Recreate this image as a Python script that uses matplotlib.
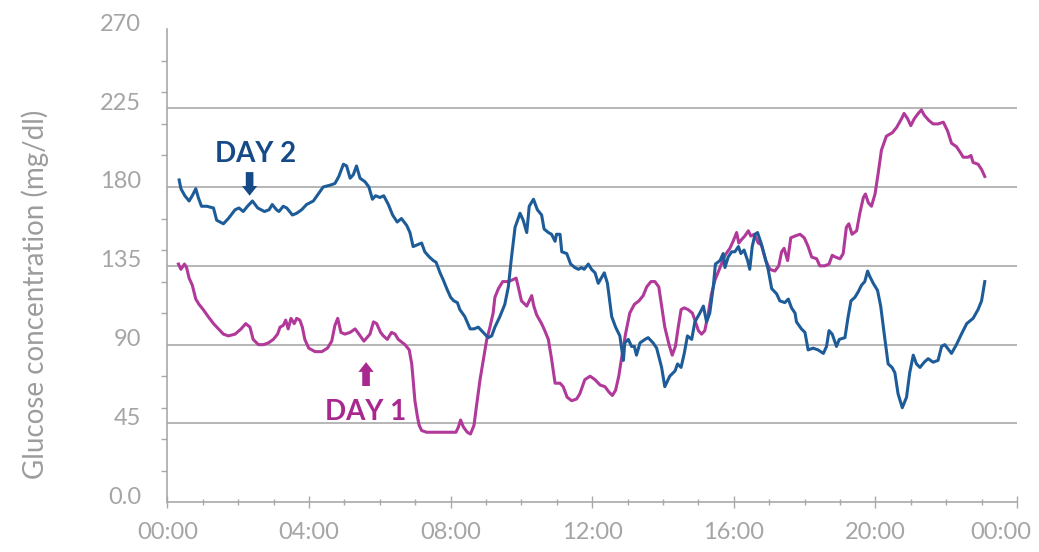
import matplotlib
matplotlib.use("Agg")
from matplotlib import pyplot as plt
from matplotlib.transforms import ScaledTranslation
import numpy as np

# hours since midnight, glucose in mg/dl
day2_hours = [0.33, 0.38, 0.49, 0.61, 0.70, 0.80, 0.87, 0.96, 1.11, 1.30, 1.39, 1.58, 1.72, 1.91,
              2.02, 2.14, 2.26, 2.40, 2.55, 2.74, 2.87, 2.96, 3.08, 3.15, 3.27, 3.37, 3.53, 3.65,
              3.79, 3.93, 4.12, 4.26, 4.40, 4.59, 4.73, 4.84, 4.97, 5.06, 5.16, 5.25, 5.34, 5.44,
              5.58, 5.69, 5.79, 5.88, 6.00, 6.11, 6.24, 6.36, 6.49, 6.61, 6.76, 6.85, 6.94, 7.06,
              7.18, 7.27, 7.40, 7.51, 7.59, 7.70, 7.79, 7.89, 8.00, 8.09, 8.19, 8.26, 8.40, 8.55,
              8.66, 8.78, 8.92, 9.06, 9.16, 9.25, 9.39, 9.53, 9.63, 9.72, 9.82, 9.96, 10.05, 10.15,
              10.22, 10.34, 10.45, 10.57, 10.64, 10.76, 10.85, 10.95, 10.99, 11.09, 11.14, 11.28,
              11.39, 11.51, 11.61, 11.70, 11.77, 11.89, 11.98, 12.08, 12.17, 12.34, 12.43, 12.55,
              12.66, 12.78, 12.88, 12.92, 13.02, 13.11, 13.19, 13.25, 13.35, 13.49, 13.58, 13.72,
              13.82, 13.96, 14.05, 14.19, 14.34, 14.41, 14.51, 14.60, 14.69, 14.81, 14.90, 15.04,
              15.14, 15.23, 15.32, 15.42, 15.48, 15.61, 15.70, 15.75, 15.84, 15.94, 16.03, 16.13,
              16.20, 16.29, 16.39, 16.45, 16.52, 16.60, 16.67, 16.77, 16.88, 16.97, 17.07, 17.21,
              17.30, 17.44, 17.54, 17.63, 17.73, 17.77, 17.91, 18.01, 18.10, 18.24, 18.38, 18.53,
              18.62, 18.69, 18.78, 18.90, 18.98, 19.14, 19.23, 19.31, 19.42, 19.51, 19.61, 19.70,
              19.78, 19.84, 19.94, 20.06, 20.15, 20.25, 20.36, 20.47, 20.55, 20.64, 20.76, 20.88,
              20.97, 21.07, 21.16, 21.26, 21.38, 21.49, 21.63, 21.77, 21.87, 21.96, 22.15, 22.29,
              22.43, 22.58, 22.76, 22.90, 23.00, 23.09]
day2_glucose = [184, 179, 175, 172, 175, 179, 174, 169, 169, 168, 161, 159, 162, 167,
                168, 166, 169, 172, 168, 166, 167, 170, 167, 166, 169, 168, 164, 165,
                167, 170, 172, 176, 180, 181, 182, 186, 193, 192, 185, 187, 192, 185,
                183, 180, 173, 175, 174, 175, 170, 164, 160, 162, 158, 154, 146, 147,
                148, 143, 140, 138, 137, 131, 127, 122, 117, 115, 114, 110, 106, 99,
                99, 100, 97, 94, 95, 100, 106, 113, 123, 140, 157, 165, 161, 154,
                169, 173, 167, 164, 156, 154, 153, 149, 153, 153, 143, 142,
                136, 134, 133, 134, 133, 136, 133, 131, 125, 131, 125, 106,
                100, 95, 81, 91, 93, 89, 89, 84, 91, 93, 94, 91,
                88, 77, 66, 72, 75, 79, 77, 85, 95, 93, 103, 108,
                112, 103, 108, 123, 136, 138, 142, 134, 140, 143, 143, 146,
                142, 144, 138, 133, 146, 153, 154, 148, 140, 133, 122, 119,
                115, 114, 116, 111, 108, 103, 99, 97, 87, 88, 87, 85,
                89, 98, 96, 89, 93, 94, 106, 115, 117, 120, 124, 126,
                132, 129, 125, 121, 112, 96, 79, 77, 74, 62, 54, 60,
                74, 84, 79, 77, 80, 82, 80, 81, 89, 90, 85, 90,
                96, 102, 105, 110, 115, 126]

day1_hours = [0.31, 0.38, 0.48, 0.54, 0.61, 0.70, 0.80, 0.89, 1.01, 1.15, 1.30, 1.44, 1.58, 1.72,
              1.91, 2.08, 2.21, 2.33, 2.42, 2.57, 2.71, 2.85, 2.99, 3.11, 3.18, 3.27, 3.34, 3.41,
              3.49, 3.58, 3.65, 3.74, 3.81, 3.88, 3.99, 4.17, 4.36, 4.52, 4.64, 4.73, 4.81, 4.90,
              5.01, 5.16, 5.30, 5.41, 5.55, 5.72, 5.82, 5.91, 6.02, 6.10, 6.21, 6.33, 6.43, 6.52,
              6.71, 6.83, 6.90, 6.94, 6.99, 7.06, 7.11, 7.18, 7.32, 7.60, 7.89, 8.15, 8.22, 8.28,
              8.36, 8.47, 8.56, 8.66, 8.73, 8.83, 8.92, 9.02, 9.11, 9.20, 9.25, 9.35, 9.47, 9.63,
              9.75, 9.85, 9.91, 10.00, 10.15, 10.22, 10.29, 10.35, 10.43, 10.57, 10.66, 10.76,
              10.85, 10.95, 11.09, 11.18, 11.29, 11.42, 11.56, 11.65, 11.79, 11.94, 12.08, 12.22,
              12.36, 12.47, 12.57, 12.66, 12.75, 12.85, 12.94, 13.06, 13.19, 13.32, 13.44, 13.54,
              13.66, 13.77, 13.88, 13.96, 14.05, 14.17, 14.26, 14.35, 14.43, 14.51, 14.60, 14.71,
              14.83, 14.90, 15.00, 15.09, 15.18, 15.28, 15.37, 15.47, 15.61, 15.75, 15.89, 15.98,
              16.08, 16.14, 16.22, 16.31, 16.41, 16.48, 16.58, 16.69, 16.78, 16.90, 17.02, 17.16,
              17.27, 17.35, 17.42, 17.52, 17.61, 17.73, 17.87, 17.99, 18.10, 18.20, 18.34, 18.43,
              18.57, 18.69, 18.78, 18.87, 19.00, 19.09, 19.18, 19.25, 19.34, 19.47, 19.56, 19.66,
              19.72, 19.80, 19.89, 19.99, 20.08, 20.17, 20.31, 20.48, 20.60, 20.74, 20.81, 20.91,
              21.00, 21.10, 21.21, 21.30, 21.38, 21.51, 21.63, 21.77, 21.92, 22.04, 22.15, 22.29,
              22.39, 22.48, 22.62, 22.70, 22.76, 22.90, 23.00, 23.09]
day1_glucose = [136, 133, 136, 134, 128, 124, 116, 113, 110, 106, 102, 99, 96, 95,
                96, 99, 102, 100, 93, 90, 90, 91, 93, 96, 100, 101, 104, 99,
                105, 102, 105, 104, 100, 93, 88, 86, 86, 88, 92, 101, 105, 97,
                96, 97, 99, 96, 92, 96, 103, 102, 97, 95, 93, 97, 96, 93,
                90, 87, 79, 70, 58, 49, 44, 41, 40, 40, 40, 40, 43, 47,
                43, 40, 39, 44, 55, 70, 81, 93, 100, 108, 117, 122, 126, 126,
                127, 128, 123, 115, 112, 115, 118, 112, 107, 102, 98, 93,
                82, 68, 68, 66, 60, 58, 59, 62, 70, 72, 70, 67,
                66, 63, 61, 64, 72, 85, 96, 108, 113, 115, 118, 123,
                126, 126, 123, 112, 100, 90, 84, 89, 100, 110, 111, 110,
                108, 104, 98, 96, 98, 108, 119, 127, 134, 141, 145, 149,
                154, 148, 150, 152, 155, 152, 153, 148, 147, 138, 133, 132,
                135, 143, 145, 138, 151, 152, 153, 151, 146, 140, 139, 135,
                135, 136, 141, 140, 139, 142, 157, 159, 153, 155, 165, 174,
                176, 171, 169, 176, 188, 201, 209, 211, 214, 219, 222, 219,
                215, 219, 222, 224, 221, 218, 216, 216, 217, 212, 205, 203,
                200, 197, 197, 198, 194, 193, 190, 186]

x_labels = ['00:00', '04:00', '08:00', '12:00', '16:00', '20:00', '00:00']
y_labels = ['0.0', '45', '90', '135', '180', '225', '270']

blue = '#1d5c98'
magenta = '#b0399a'
grey_text = '#a5a5a5'
grey_line = '#a9a9a9'

plt.rcParams['font.family'] = ['Lato', 'DejaVu Sans']

fig = plt.figure(figsize=(10.39, 5.52), dpi=100)
ax = fig.add_axes([0.1612, 0.0900, 0.8176, 0.8569])

ax.plot(day1_hours, day1_glucose, color=magenta, lw=2.2, solid_joinstyle='round')
ax.plot(day2_hours, day2_glucose, color=blue, lw=2.2, solid_joinstyle='round')

ax.set_xlim(0, 24)
ax.set_ylim(0, 270)

# horizontal grid lines
for v in [45, 90, 135, 180, 225]:
    ax.axhline(v, color=grey_line, lw=1.2, zorder=0)

for s in ['top', 'right']:
    ax.spines[s].set_visible(False)
for s in ['left', 'bottom']:
    ax.spines[s].set_color(grey_line)
    ax.spines[s].set_linewidth(1.2)

# x ticks
ax.set_xticks(np.arange(0, 25, 4))
ax.set_xticklabels(x_labels)
ax.set_xticks(np.arange(0, 25, 1), minor=True)
ax.tick_params(axis='x', which='major', direction='inout', length=8, width=1, color=grey_line,
               labelsize=17, labelcolor=grey_text, pad=10)
ax.tick_params(axis='x', which='minor', direction='inout', length=4, width=1, color=grey_line)
last = ax.get_xticklabels()[-1]
last.set_transform(last.get_transform() + ScaledTranslation(-0.16, 0, fig.dpi_scale_trans))

# y ticks: labels every 45, tick marks every 18
ax.set_yticks(np.arange(0, 271, 45))
ax.set_yticklabels(y_labels)
ax.set_yticks(np.arange(0, 271, 18), minor=True)
ax.tick_params(axis='y', which='major', length=0, labelsize=17, labelcolor=grey_text, pad=19)
ax.tick_params(axis='y', which='minor', direction='out', length=4, width=1, color=grey_line)
for lab in ax.get_yticklabels():
    lab.set_transform(lab.get_transform() + ScaledTranslation(0, 0.07, fig.dpi_scale_trans))

ax.set_ylabel('Glucose concentration (mg/dl)', fontsize=20, color='#9c9c9c')
ax.yaxis.set_label_coords(-0.139, 0.44)

# annotations
ax.text(2.50, 199, 'DAY 2', color='#164a87', fontsize=20, fontweight='bold',
        ha='center', va='center')
ax.annotate('', xy=(2.32, 175), xytext=(2.32, 188.5),
            arrowprops=dict(arrowstyle='simple,head_width=11,head_length=7,tail_width=5.5',
                            mutation_scale=1, color='#164a87', shrinkA=0, shrinkB=0, lw=0))
ax.text(5.61, 51.5, 'DAY 1', color='#a8288f', fontsize=20, fontweight='bold',
        ha='center', va='center')
ax.annotate('', xy=(5.61, 80), xytext=(5.61, 66.4),
            arrowprops=dict(arrowstyle='simple,head_width=11,head_length=7,tail_width=5.5',
                            mutation_scale=1, color='#a8288f', shrinkA=0, shrinkB=0, lw=0))

fig.savefig('out.png', dpi=100)
